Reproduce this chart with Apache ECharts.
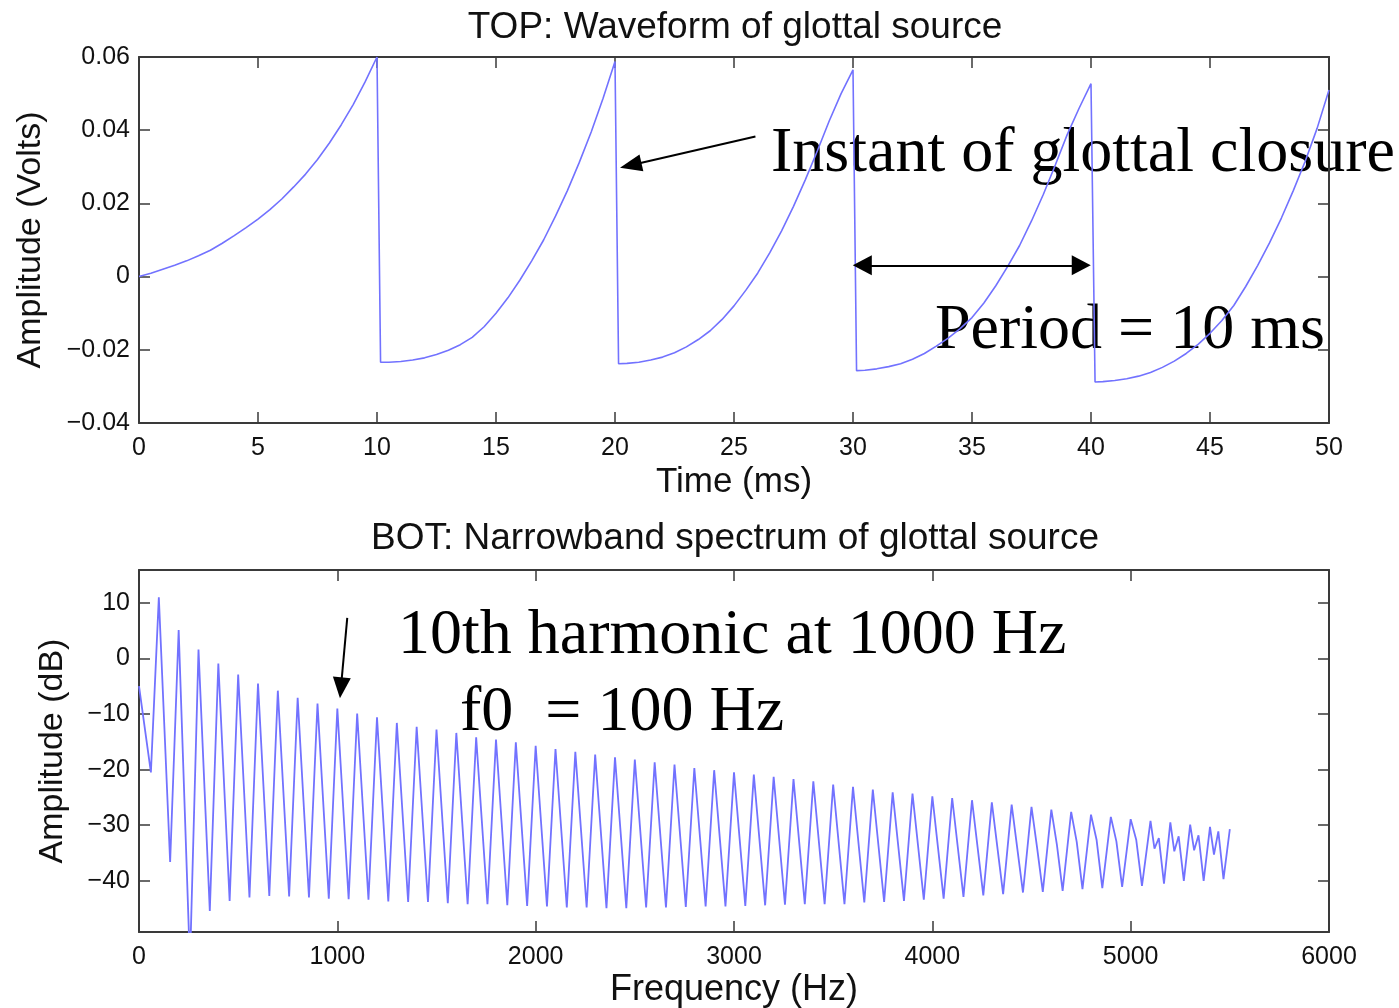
<!DOCTYPE html>
<html><head><meta charset="utf-8">
<script src="https://cdn.jsdelivr.net/npm/echarts@6/dist/echarts.min.js"></script>
<style>html,body{margin:0;padding:0;background:#fff}#c{width:1399px;height:1008px}</style>
</head><body><div id="c"></div>
<script>
// ---------- TOP: glottal waveform ----------
const timeMs = [
  0,0.5,1,1.5,2,2.5,3,3.5,4,4.5,5,5.5,6,6.5,7,7.5,8,8.5,9,9.5,10,
  10.15,10.5,11,11.5,12,12.5,13,13.5,14,14.5,15,15.5,16,16.5,17,17.5,18,18.5,19,19.5,20,
  20.15,20.5,21,21.5,22,22.5,23,23.5,24,24.5,25,25.5,26,26.5,27,27.5,28,28.5,29,29.5,30,
  30.15,30.5,31,31.5,32,32.5,33,33.5,34,34.5,35,35.5,36,36.5,37,37.5,38,38.5,39,39.5,40,
  40.17,40.5,41,41.5,42,42.5,43,43.5,44,44.5,45,45.5,46,46.5,47,47.5,48,48.5,49,49.5,50
];
const amplitudeV = [
  0,0.0009,0.002,0.0031,0.0043,0.0057,0.0072,0.0091,0.0112,0.0134,0.0157,0.0183,0.0212,0.0245,0.028,0.032,0.0365,0.0415,0.047,0.0532,0.060,
  -0.0234,-0.0234,-0.0232,-0.0228,-0.0222,-0.0213,-0.0201,-0.0186,-0.0166,-0.0137,-0.0100,-0.0058,-0.0010,0.0043,0.0100,0.0165,0.0235,0.0312,0.0395,0.0487,0.0588,
  -0.0238,-0.0237,-0.0234,-0.0228,-0.0220,-0.0208,-0.0192,-0.0172,-0.0148,-0.0117,-0.0080,-0.0037,0.0010,0.0065,0.0125,0.0192,0.0265,0.0343,0.0425,0.0500,0.0565,
  -0.0257,-0.0256,-0.0252,-0.0246,-0.0238,-0.0226,-0.0210,-0.0190,-0.0168,-0.0142,-0.0112,-0.0072,-0.0025,0.0028,0.0085,0.0152,0.0225,0.0305,0.0388,0.0460,0.0527,
  -0.0288,-0.0287,-0.0284,-0.0279,-0.0272,-0.0262,-0.0248,-0.0231,-0.0210,-0.0185,-0.0155,-0.0120,-0.0079,-0.0027,0.0030,0.0092,0.0160,0.0235,0.0315,0.0405,0.0510
];
const timeTicks = [0,5,10,15,20,25,30,35,40,45,50];
const voltTicks = [-0.04,-0.02,0,0.02,0.04,0.06];

// ---------- BOTTOM: narrowband spectrum ----------
const f0Hz = 100;
const specStartHz = [0, 60];
const specStartDb = [-5.0, -20.5];
const harmonicDb = [
  11.0,5.1,1.6,-0.9,-2.9,-4.5,-5.8,-7.1,-8.1,-9.0,
  -9.9,-10.6,-11.6,-12.3,-12.8,-13.4,-14.2,-14.6,-15.1,-15.7,
  -16.3,-16.8,-17.3,-17.8,-18.2,-18.7,-19.1,-19.7,-20.1,-20.5,
  -20.9,-21.3,-21.7,-22.1,-22.7,-23.1,-23.6,-24.1,-24.3,-24.8,
  -25.1,-25.5,-25.9,-26.3,-26.7,-27.2,-27.6,-28.1,-28.5,-28.9,
  -29.2,-29.5,-29.9,-30.3,-30.7
];
const troughDb = [
  -36.6,-55,-45.4,-43.6,-43.0,-42.7,-42.8,-43.0,-43.2,-43.3,
  -43.4,-43.7,-43.8,-43.8,-44.0,-44.2,-44.2,-44.4,-44.5,-44.6,
  -44.8,-44.8,-44.9,-44.9,-44.8,-44.8,-44.7,-44.6,-44.6,-44.5,
  -44.4,-44.3,-44.2,-44.2,-44.2,-43.9,-43.8,-43.6,-43.4,-43.2,
  -42.9,-42.6,-42.4,-42.1,-42.0,-41.8,-41.5,-41.3,-41.1,-40.9,
  -40.5,-40.0,-40.0,-39.7
];
const shoulderHarmonics = [45,46,47,48,49,50];
const shoulderDb = [-34.0,-33.5,-33.0,-32.6,-32.9,-32.6];
const dipBumpHarmonics = [51,52,53,54];
const dipDb = [-34.2,-34.7,-34.5,-35.3];
const bumpDb = [-32.3,-32.0,-31.8,-31.1];
const freqTicks = [0,1000,2000,3000,4000,5000,6000];
const dbTicks = [-40,-30,-20,-10,0,10];

const wavePts = timeMs.map((t, i) => [t, amplitudeV[i]]);
const specPts = [];
specStartHz.forEach((f, i) => specPts.push([f, specStartDb[i]]));
for (let k = 1; k <= harmonicDb.length; k++) {
  specPts.push([f0Hz * k, harmonicDb[k - 1]]);
  if (k - 1 < troughDb.length) {
    const si = shoulderHarmonics.indexOf(k);
    const di = dipBumpHarmonics.indexOf(k);
    if (si >= 0) specPts.push([f0Hz * k + 28, shoulderDb[si]]);
    if (di >= 0) {
      specPts.push([f0Hz * k + 20, dipDb[di]]);
      specPts.push([f0Hz * k + 42, bumpDb[di]]);
      specPts.push([f0Hz * k + 68, troughDb[k - 1]]);
    } else {
      specPts.push([f0Hz * k + 57, troughDb[k - 1]]);
    }
  }
}

const SANS = '"Liberation Sans", Arial, Helvetica, sans-serif';
const SERIF = '"Liberation Serif", "Times New Roman", serif';
const frameCol = '#3a3a3a';
const lineCol = '#7272ff';
const lbl = { fontFamily: SANS, fontSize: 25, color: '#111' };
const fmtMinus = v => Math.abs(v) < 1e-9 ? '0' : (v < 0 ? '\u2212' : '') + String(Math.abs(v));
const fmtVolt = v => Math.abs(v) < 1e-9 ? '0' : (v < 0 ? '\u2212' : '') + Math.abs(v).toFixed(2);

function xAxis(grid, min, max, interval, pos, name, nameSize, gap) {
  return {
    type: 'value', gridIndex: grid, min, max, interval, position: pos,
    axisLine: { show: true, onZero: false, lineStyle: { color: frameCol, width: 2 } },
    axisTick: { show: true, inside: true, length: 11, lineStyle: { color: frameCol, width: 1.5 } },
    axisLabel: Object.assign({ show: pos === 'bottom', margin: 13, formatter: fmtMinus }, lbl),
    splitLine: { show: false },
    name: pos === 'bottom' ? name : '', nameLocation: 'middle', nameGap: gap,
    nameTextStyle: { fontFamily: SANS, fontSize: nameSize, color: '#111' }
  };
}
function yAxis(grid, min, max, pos, ticks, fmt, name, gap) {
  return {
    type: 'value', gridIndex: grid, min, max, position: pos,
    axisLine: { show: true, onZero: false, lineStyle: { color: frameCol, width: 2 } },
    axisTick: { show: true, inside: true, length: 11, customValues: ticks, lineStyle: { color: frameCol, width: 1.5 } },
    axisLabel: Object.assign({ show: pos === 'left', margin: 9, customValues: ticks, formatter: fmt }, lbl),
    splitLine: { show: false },
    name: pos === 'left' ? name : '', nameLocation: 'middle', nameRotate: 90, nameGap: gap,
    nameTextStyle: { fontFamily: SANS, fontSize: 34, color: '#111' }
  };
}

const chart = echarts.init(document.getElementById('c'), null, { renderer: 'canvas', devicePixelRatio: 1 });
const arrowLine = { color: '#000', width: 2, type: 'solid' };
const annFont = '64px ' + SERIF;
chart.setOption({
  animation: false,
  backgroundColor: '#fff',
  title: [
    { text: 'TOP: Waveform of glottal source', left: 735, top: 9, textAlign: 'center', padding: 0,
      textStyle: { fontFamily: SANS, fontSize: 37, fontWeight: 'normal', color: '#111' } },
    { text: 'BOT: Narrowband spectrum of glottal source', left: 735, top: 520, textAlign: 'center', padding: 0,
      textStyle: { fontFamily: SANS, fontSize: 37, fontWeight: 'normal', color: '#111' } }
  ],
  grid: [
    { left: 139, top: 57, width: 1190, height: 366, outerBoundsMode: 'none' },
    { left: 139, top: 570, width: 1190, height: 362, outerBoundsMode: 'none' }
  ],
  xAxis: [
    xAxis(0, 0, 50, 5, 'bottom', 'Time (ms)', 35, 42),
    xAxis(0, 0, 50, 5, 'top', '', 35, 42),
    xAxis(1, 0, 6000, 1000, 'bottom', 'Frequency (Hz)', 36, 40),
    xAxis(1, 0, 6000, 1000, 'top', '', 36, 40)
  ],
  yAxis: [
    yAxis(0, -0.04, 0.06, 'left', voltTicks, fmtVolt, 'Amplitude (Volts)', 91),
    yAxis(0, -0.04, 0.06, 'right', voltTicks, fmtVolt, '', 91),
    yAxis(1, -49.2, 15.9, 'left', dbTicks, fmtMinus, 'Amplitude (dB)', 69),
    yAxis(1, -49.2, 15.9, 'right', dbTicks, fmtMinus, '', 69)
  ],
  series: [
    {
      type: 'line', xAxisIndex: 0, yAxisIndex: 0, data: wavePts, showSymbol: false, clip: true,
      lineStyle: { color: lineCol, width: 1.6 }, silent: true,
      markLine: {
        silent: true, animation: false, label: { show: false }, lineStyle: arrowLine,
        data: [
          [{ coord: [25.9, 0.0383], symbol: 'none' }, { coord: [20.66, 0.0304], symbol: 'triangle', symbolSize: [17, 22] }],
          [{ coord: [30.39, 0.0031], symbol: 'triangle', symbolSize: [20, 19] }, { coord: [39.59, 0.0031], symbol: 'triangle', symbolSize: [20, 19] }]
        ]
      }
    },
    {
      type: 'line', xAxisIndex: 2, yAxisIndex: 2, data: specPts, showSymbol: false, clip: true,
      lineStyle: { color: lineCol, width: 1.8 }, silent: true,
      markLine: {
        silent: true, animation: false, label: { show: false }, lineStyle: arrowLine,
        data: [
          [{ coord: [1050, 7.3], symbol: 'none' }, { coord: [1018, -5.3], symbol: 'triangle', symbolSize: [18, 21] }]
        ]
      }
    }
  ],
  graphic: [
    { type: 'text', x: 771, y: 154, silent: true,
      style: { text: 'Instant of glottal closure', font: annFont, fill: '#000', align: 'left', verticalAlign: 'middle' } },
    { type: 'text', x: 935, y: 331, silent: true,
      style: { text: 'Period = 10 ms', font: annFont, fill: '#000', align: 'left', verticalAlign: 'middle' } },
    { type: 'text', x: 398, y: 636, silent: true,
      style: { text: '10th harmonic at 1000 Hz', font: annFont, fill: '#000', align: 'left', verticalAlign: 'middle' } },
    { type: 'text', x: 460, y: 713, silent: true,
      style: { text: 'f0  = 100 Hz', font: annFont, fill: '#000', align: 'left', verticalAlign: 'middle' } }
  ]
});
</script></body></html>
